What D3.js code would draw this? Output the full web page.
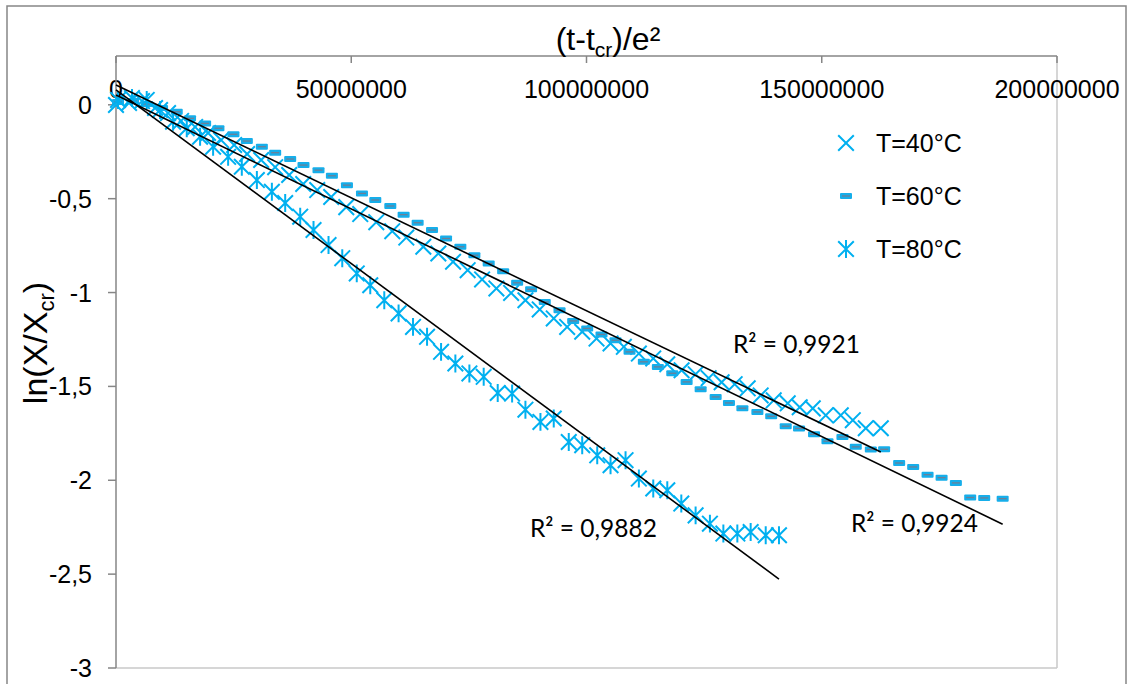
<!DOCTYPE html>
<html><head><meta charset="utf-8">
<script src="https://cdn.jsdelivr.net/npm/d3@7"></script>
<style>body{margin:0;background:#fff}svg{display:block}</style>
</head><body>
<svg id="c" width="1133" height="684"></svg>
<script>
// ---- data (x in units of 1e6) ----
const seriesNames = ["T=40°C", "T=60°C", "T=80°C"];
const xTicks = [0, 50000000, 100000000, 150000000, 200000000];
const yTicks = [0, -0.5, -1, -1.5, -2, -2.5, -3];
const yTickLabels = ["0", "-0,5", "-1", "-1,5", "-2", "-2,5", "-3"];
const X_UNIT = 1e6;

const x40 = [0.00,2.77,5.53,8.30,11.06,13.83,16.81,19.57,22.34,25.11,27.87,30.85,33.83,36.81,39.79,42.77,45.74,48.94,51.91,55.32,58.72,61.70,65.32,68.51,71.64,74.74,77.81,80.85,83.98,87.02,90.06,93.04,95.89,99.09,102.13,105.11,107.94,111.13,114.19,117.17,120.21,123.19,125.96,128.72,131.49,134.26,137.02,139.79,142.77,145.32,148.09,150.85,154.04,156.60,159.36,162.55];
const y40 = [-0.001,0.010,0.020,-0.017,-0.044,-0.086,-0.118,-0.150,-0.188,-0.214,-0.262,-0.294,-0.332,-0.374,-0.422,-0.454,-0.491,-0.545,-0.582,-0.625,-0.673,-0.707,-0.756,-0.792,-0.836,-0.881,-0.930,-0.978,-1.002,-1.041,-1.090,-1.138,-1.183,-1.209,-1.245,-1.271,-1.289,-1.325,-1.351,-1.382,-1.414,-1.435,-1.456,-1.478,-1.488,-1.510,-1.548,-1.574,-1.590,-1.611,-1.617,-1.654,-1.654,-1.680,-1.723,-1.723];

const x60 = [0.43,3.62,6.60,9.79,12.91,15.74,18.94,21.77,24.96,27.81,31.00,33.83,37.02,39.85,43.04,45.89,49.09,52.28,55.11,58.30,61.13,64.11,67.17,70.15,73.19,76.17,79.21,82.28,85.26,88.23,91.13,94.26,97.17,100.15,103.19,106.17,109.15,112.19,115.17,118.23,121.28,124.26,127.45,130.28,133.13,136.32,139.26,142.34,145.17,148.36,151.21,154.40,157.23,160.43,163.26,166.45,169.43,172.49,175.47,178.51,181.55,184.53,188.45];
const y60 = [0.015,0.020,0.004,-0.017,-0.037,-0.072,-0.099,-0.125,-0.157,-0.193,-0.223,-0.255,-0.289,-0.321,-0.348,-0.378,-0.428,-0.472,-0.507,-0.539,-0.585,-0.628,-0.667,-0.712,-0.756,-0.801,-0.845,-0.886,-0.948,-0.983,-1.050,-1.094,-1.151,-1.191,-1.223,-1.254,-1.316,-1.369,-1.396,-1.430,-1.476,-1.515,-1.556,-1.588,-1.616,-1.636,-1.659,-1.712,-1.724,-1.755,-1.792,-1.769,-1.822,-1.836,-1.835,-1.908,-1.929,-1.970,-1.986,-2.014,-2.092,-2.094,-2.098];

const x80 = [0.43,3.40,6.53,9.36,12.13,15.04,17.87,20.64,23.83,26.74,29.94,33.13,35.96,39.15,41.98,45.17,48.09,51.17,54.04,57.02,60.06,63.13,66.11,69.09,72.13,75.11,78.15,81.13,84.19,87.02,90.21,93.04,96.23,99.09,102.28,105.11,108.30,111.13,114.19,117.17,120.15,123.19,126.23,129.09,132.06,134.89,138.09,140.91];
const y80 = [0.026,0.036,0.026,-0.028,-0.090,-0.125,-0.170,-0.223,-0.277,-0.330,-0.401,-0.463,-0.523,-0.596,-0.667,-0.747,-0.817,-0.898,-0.961,-1.041,-1.111,-1.183,-1.236,-1.316,-1.378,-1.431,-1.449,-1.535,-1.538,-1.624,-1.689,-1.671,-1.796,-1.813,-1.867,-1.920,-1.893,-1.991,-2.044,-2.053,-2.124,-2.187,-2.231,-2.284,-2.284,-2.276,-2.293,-2.293];

// linear trendlines (y = a + b*x, x in 1e6) as drawn in the picture
const fitIntercept = [0.106, 0.052, 0.079];
const fitSlope = [-0.01203, -0.01213, -0.01849];
const r2Labels = ["R² = 0,9921", "R² = 0,9924", "R² = 0,9882"];

// ---- drawing ----
const svg = d3.select("#c");
const BLUE = "#00B0F0";
const AXIS = "#868686";
const FONT = "'Liberation Sans', Arial, sans-serif";

const x = d3.scaleLinear().domain([0, 200e6]).range([116, 1057]);
const y = d3.scaleLinear().domain([-3, 0.26]).range([668, 56]);

// outer chart border
svg.append("rect").attr("x", 7).attr("y", 6).attr("width", 1119).attr("height", 700)
  .attr("fill", "#fff").attr("stroke", AXIS).attr("stroke-width", 1.5);

// plot area border (light) right & bottom
svg.append("line").attr("x1", x(200e6)).attr("x2", x(200e6)).attr("y1", y(0.26)).attr("y2", y(-3))
  .attr("stroke", "#c8c8c8").attr("stroke-width", 1.5);
svg.append("line").attr("x1", x(0)).attr("x2", x(200e6)).attr("y1", y(-3)).attr("y2", y(-3))
  .attr("stroke", "#c8c8c8").attr("stroke-width", 1.5);

// x axis at top
const gx = svg.append("g");
gx.append("line").attr("x1", x(0)).attr("x2", x(200e6)).attr("y1", y(0.26)).attr("y2", y(0.26))
  .attr("stroke", AXIS).attr("stroke-width", 1.5);
gx.selectAll(".xt").data(xTicks).join("line")
  .attr("x1", d => x(d)).attr("x2", d => x(d)).attr("y1", y(0.26)).attr("y2", y(0.26) + 7)
  .attr("stroke", AXIS).attr("stroke-width", 1.5);
gx.selectAll(".xl").data(xTicks).join("text")
  .attr("x", d => x(d)).attr("y", 98).attr("text-anchor", "middle")
  .attr("font-family", FONT).attr("font-size", 25).attr("fill", "#000")
  .text(d => d3.format("d")(d));

// y axis
const gy = svg.append("g");
gy.append("line").attr("x1", x(0)).attr("x2", x(0)).attr("y1", y(0.26)).attr("y2", y(-3))
  .attr("stroke", AXIS).attr("stroke-width", 1.5);
gy.selectAll(".yt").data(yTicks).join("line")
  .attr("x1", x(0) - 8).attr("x2", x(0)).attr("y1", d => y(d)).attr("y2", d => y(d))
  .attr("stroke", AXIS).attr("stroke-width", 1.5);
gy.selectAll(".yl").data(yTicks).join("text")
  .attr("x", 92).attr("y", d => y(d) + 9).attr("text-anchor", "end")
  .attr("font-family", FONT).attr("font-size", 25).attr("fill", "#000")
  .text((d, i) => yTickLabels[i]);

// axis titles
const xt = svg.append("text").attr("x", 608).attr("y", 50).attr("text-anchor", "middle")
  .attr("font-family", FONT).attr("font-size", 32).attr("fill", "#000");
xt.append("tspan").text("(t-t");
xt.append("tspan").attr("font-size", 21).attr("dy", 7).text("cr");
xt.append("tspan").attr("dy", -7).text(")/e²");

const yt = svg.append("text").attr("transform", "translate(47,343) rotate(-90)").attr("text-anchor", "middle")
  .attr("font-family", FONT).attr("font-size", 34).attr("fill", "#000");
yt.append("tspan").text("ln(X/X");
yt.append("tspan").attr("font-size", 22).attr("dy", 7).text("cr");
yt.append("tspan").attr("dy", -7).text(")");

// marker painters
function drawCross(g, cx, cy, s) {
  g.append("path").attr("d", `M${cx-s},${cy-s}L${cx+s},${cy+s}M${cx-s},${cy+s}L${cx+s},${cy-s}`)
    .attr("stroke", BLUE).attr("stroke-width", 2).attr("fill", "none");
}
function drawStar(g, cx, cy, s) {
  g.append("path").attr("d", `M${cx-s},${cy-s}L${cx+s},${cy+s}M${cx-s},${cy+s}L${cx+s},${cy-s}M${cx},${cy-s*1.15}L${cx},${cy+s*1.15}`)
    .attr("stroke", BLUE).attr("stroke-width", 2).attr("fill", "none");
}
function drawDash(g, cx, cy) {
  g.append("rect").attr("x", cx - 6).attr("y", cy - 3).attr("width", 12).attr("height", 6).attr("rx", 1)
    .attr("fill", "#16AEEA");
  g.append("line").attr("x1", cx - 4).attr("x2", cx + 4).attr("y1", cy).attr("y2", cy)
    .attr("stroke", "#6d7f96").attr("stroke-width", 1.3);
}

const series = [
  { xs: x40, ys: y40, draw: (g, cx, cy) => drawCross(g, cx, cy, 7.8) },
  { xs: x60, ys: y60, draw: (g, cx, cy) => drawDash(g, cx, cy) },
  { xs: x80, ys: y80, draw: (g, cx, cy) => drawStar(g, cx, cy, 7.8) }
];

const gm = svg.append("g");
series.forEach(s => {
  s.xs.forEach((xv, i) => s.draw(gm, x(xv * X_UNIT), y(s.ys[i])));
});

// trendlines
const gt = svg.append("g");
series.forEach((s, k) => {
  const xmax = d3.max(s.xs);
  gt.append("line")
    .attr("x1", x(0)).attr("y1", y(fitIntercept[k]))
    .attr("x2", x(xmax * X_UNIT)).attr("y2", y(fitIntercept[k] + fitSlope[k] * xmax))
    .attr("stroke", "#000").attr("stroke-width", 1.6);
});

// R² labels
const r2Pos = [[733, 353], [851, 532], [530, 537]];
r2Labels.forEach((t, i) => {
  svg.append("text").attr("x", r2Pos[i][0]).attr("y", r2Pos[i][1])
    .attr("font-family", "Lato, 'Open Sans', sans-serif").attr("font-size", 24.5).attr("fill", "#000")
    .text(t);
});

// legend
const legY = [143, 196, 249];
const gl = svg.append("g");
series.forEach((s, i) => {
  s.draw(gl, 846, legY[i]);
  gl.append("text").attr("x", 876).attr("y", legY[i] + 9)
    .attr("font-family", FONT).attr("font-size", 25).attr("fill", "#000").text(seriesNames[i]);
});
</script>
</body></html>
